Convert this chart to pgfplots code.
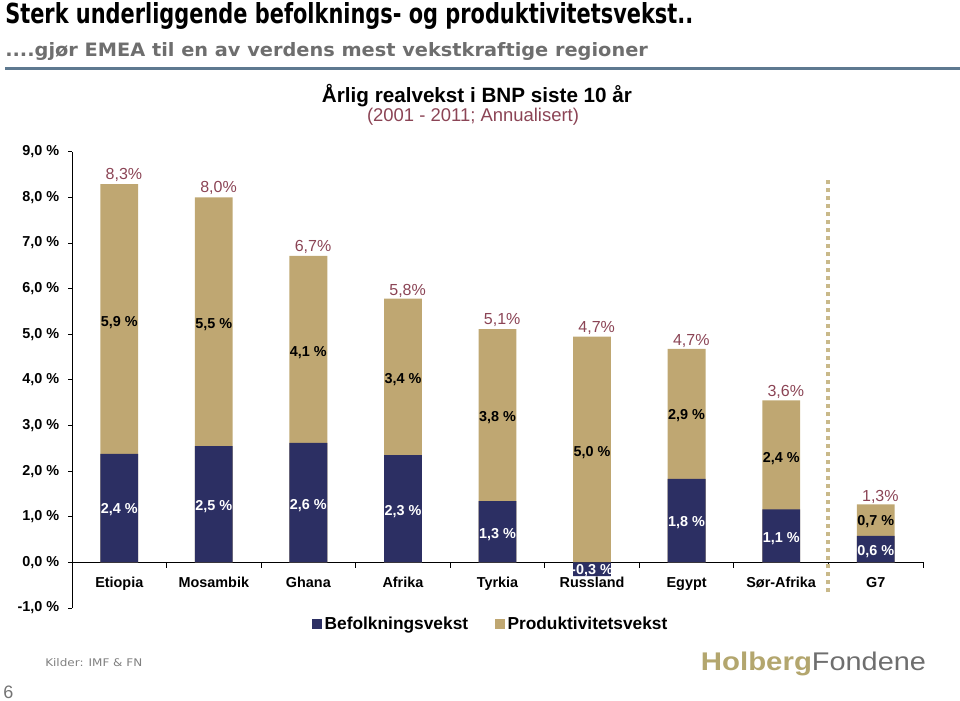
\documentclass[border=0pt]{standalone}
\usepackage{fontspec}
\setmainfont{Liberation Sans}
\newfontfamily\djv{DejaVu Sans}
\usepackage{graphicx}
\usepackage{pgfplots}
\usepackage{pgfplotstable}
\pgfplotsset{compat=1.18}

\definecolor{navyc}{HTML}{2C2F63}
\definecolor{goldc}{HTML}{BFA772}
\definecolor{wine}{HTML}{8B4455}
\definecolor{dotc}{HTML}{C9B98A}
\definecolor{rulec}{HTML}{5E7990}
\definecolor{subgray}{HTML}{6E6E6E}
\definecolor{logogold}{HTML}{B3A66E}
\definecolor{logogray}{HTML}{6E6E6E}

% x = category index, pop = Befolkningsvekst, top = top of the gold (Produktivitetsvekst) bar
\pgfplotstableread{
x pop top
0 2.38 8.29
1 2.55 8.00
2 2.62 6.72
3 2.35 5.78
4 1.34 5.11
5 -0.30 4.95
6 1.83 4.68
7 1.16 3.55
8 0.58 1.27
}\bars

\begin{document}
\begin{tikzpicture}
\path[use as bounding box] (0,0) rectangle (720pt,525pt);

\node[anchor=base west, inner sep=0] at (3.75pt,507pt)
  {\resizebox{516pt}{15.75pt}{\djv\bfseries Sterk underliggende befolknings- og produktivitetsvekst..}};
\node[anchor=base west, inner sep=0] at (3.75pt,482.25pt)
  {\resizebox{482pt}{10.5pt}{\color{subgray}\djv\bfseries ....gjør EMEA til en av verdens mest vekstkraftige regioner}};
\fill[rulec] (3.75pt,472.5pt) rectangle (720pt,474.75pt);

\node[anchor=base, inner sep=0] at (357.75pt,448pt)
  {\resizebox{232.5pt}{!}{\bfseries\fontsize{15.5}{18}\selectfont Årlig realvekst i BNP siste 10 år}};
\node[anchor=base, inner sep=0] at (354.75pt,433.5pt)
  {\resizebox{159pt}{!}{\color{wine}\fontsize{13}{15}\selectfont (2001 - 2011; Annualisert)}};

\node[anchor=base west, inner sep=0] at (33.75pt,25pt)
  {\resizebox{72.75pt}{6pt}{\color{black!50}\djv Kilder: IMF \& FN}};
\node[anchor=base west, inner sep=0] at (2.25pt,1.5pt)
  {\color{black!55}\fontsize{13.5}{15}\selectfont 6};
\node[anchor=base west, inner sep=0] at (525.5pt,22.5pt)
  {\resizebox{83.25pt}{13.9pt}{\color{logogold}\bfseries Holberg}\resizebox{85.5pt}{13.9pt}{\color{logogray}Fondene}};

\begin{axis}[
  at={(54pt,69pt)}, anchor=south west,
  scale only axis, width=638.25pt, height=342.2pt,
  xmin=-0.5, xmax=8.5, ymin=-1, ymax=9,
  axis y line=left, axis x line=middle,
  axis line style={-, black, line width=0.6pt},
  hide obscured x ticks=false, hide obscured y ticks=false,
  tick align=outside,
  major tick length=3pt, minor tick length=4pt,
  tick style={black, line width=0.6pt},
  xtick={0,...,8},
  xticklabels={Etiopia,Mosambik,Ghana,Afrika,Tyrkia,Russland,Egypt,Sør-Afrika,G7},
  major x tick style={draw=none},
  minor xtick={0.5,1.5,2.5,3.5,4.5,5.5,6.5,7.5,8.5},
  ytick={-1,0,...,9},
  yticklabels={{-1,0 \%},{0,0 \%},{1,0 \%},{2,0 \%},{3,0 \%},{4,0 \%},{5,0 \%},{6,0 \%},{7,0 \%},{8,0 \%},{9,0 \%}},
  xticklabel style={font=\bfseries\fontsize{10.8}{12}\selectfont, anchor=base, yshift=-15.75pt},
  yticklabel style={font=\bfseries\fontsize{10.8}{12}\selectfont, xshift=-3pt},
  legend columns=2,
  legend style={at={(0.4924,-0.036)}, anchor=center, draw=none, fill=none,
    font=\bfseries\fontsize{13}{15}\selectfont,
    /tikz/every even column/.append style={column sep=18pt}},
  legend image code/.code={\fill[#1] (0pt,-3.75pt) rectangle (7.5pt,3.75pt);},
]
\addlegendimage{fill=navyc, draw=none}
\addlegendentry{Befolkningsvekst}
\addlegendimage{fill=goldc, draw=none}
\addlegendentry{Produktivitetsvekst}

\addplot[ybar, bar width=0.4, bar shift=0pt, fill=goldc, draw=none, forget plot]
  table[x=x, y=top] {\bars};
\addplot[ybar, bar width=0.4, bar shift=0pt, fill=navyc, draw=none, forget plot]
  table[x=x, y=pop] {\bars};

\draw[dotc, line width=3pt, dash pattern=on 3pt off 3pt] (axis cs:7.5,-0.66) -- (axis cs:7.5,8.45);

% totals above bars
\addplot[forget plot, only marks, mark=text, text mark={}, nodes near coords, point meta=explicit symbolic,
  every node near coord/.append style={anchor=center, xshift=3.5pt, text=wine, font=\fontsize{12}{14}\selectfont}]
  coordinates {(0,8.50) [8,3\%] (1,8.21) [8,0\%] (2,6.91) [6,7\%] (3,5.95) [5,8\%] (4,5.31) [5,1\%]
               (5,5.14) [4,7\%] (6,4.85) [4,7\%] (7,3.73) [3,6\%] (8,1.44) [1,3\%]};
% productivity labels
\addplot[forget plot, only marks, mark=text, text mark={}, nodes near coords, point meta=explicit symbolic,
  every node near coord/.append style={anchor=center, text=black, font=\bfseries\fontsize{10.8}{12}\selectfont}]
  coordinates {(0,5.25) [5,9 \%] (1,5.22) [5,5 \%] (2,4.60) [4,1 \%] (3,4.00) [3,4 \%] (4,3.17) [3,8 \%]
               (5,2.41) [5,0 \%] (6,3.21) [2,9 \%] (7,2.28) [2,4 \%] (8,0.89) [0,7 \%]};
% population labels
\addplot[forget plot, only marks, mark=text, text mark={}, nodes near coords, point meta=explicit symbolic,
  every node near coord/.append style={anchor=center, text=white, font=\bfseries\fontsize{10.8}{12}\selectfont}]
  coordinates {(0,1.15) [2,4 \%] (1,1.22) [2,5 \%] (2,1.24) [2,6 \%] (3,1.11) [2,3 \%] (4,0.60) [1,3 \%]
               (5,-0.17) [-0,3 \%] (6,0.87) [1,8 \%] (7,0.53) [1,1 \%] (8,0.23) [0,6 \%]};
\end{axis}
\end{tikzpicture}
\end{document}
